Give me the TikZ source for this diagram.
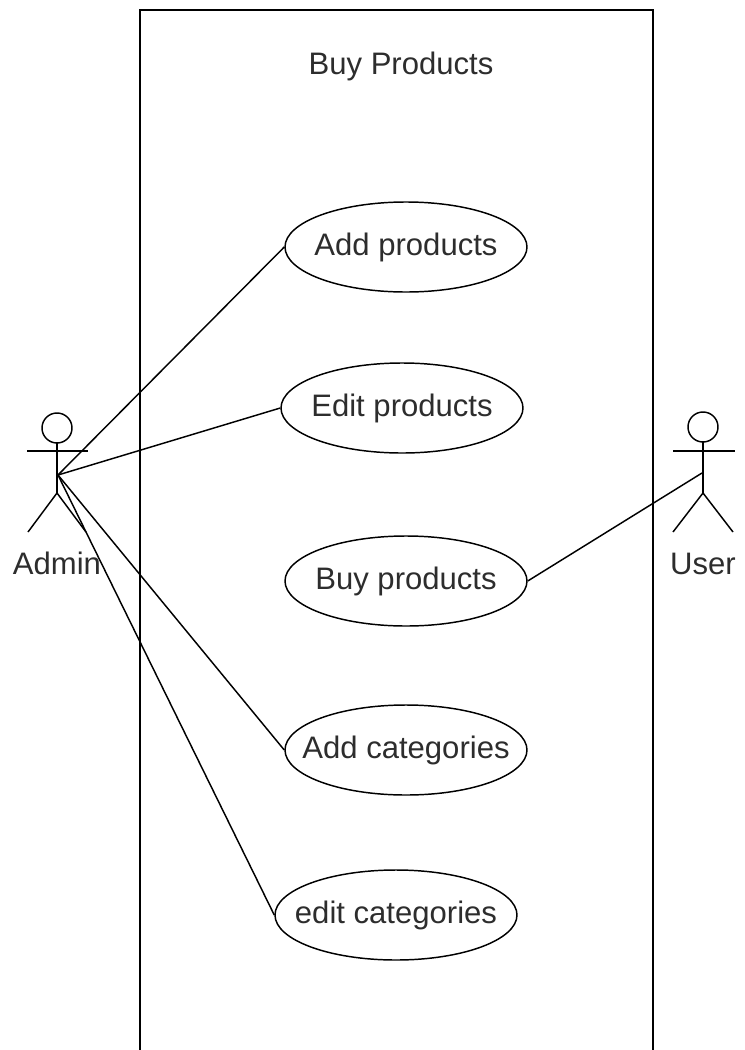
\documentclass[tikz,border=0pt]{standalone}
\usepackage{fontspec}
\setmainfont{Liberation Sans}
\usetikzlibrary{shapes.geometric}
\definecolor{inkgray}{RGB}{45,45,45}

\begin{document}
\begin{tikzpicture}[x=0.75pt,y=0.75pt,yscale=-1,xscale=1,
  usecase/.style={draw,line width=1.1pt,ellipse,inner sep=0pt,minimum width=181.5pt,minimum height=67.5pt,
    label={[inner sep=0pt,text=inkgray,font=\fontsize{23.3}{27}\selectfont]center:#1}},
  label text/.style={anchor=base,inner sep=0pt,text=inkgray,font=\fontsize{23.3}{27}\selectfont},
  link/.style={line width=1.1pt}]
\useasboundingbox (0,0) rectangle (744,1050);

%Shape: Rectangle (system boundary, open at the bottom)
\draw [line width=1.1pt] (140,1050) -- (140,10) -- (653,10) -- (653,1050) ;
% Text Node
\node [label text] (title) at (401,74) {Buy Products};

%Shape: Ellipse
\node [usecase=Add products] (addprod) at (406,247) {};
%Shape: Ellipse
\node [usecase=Edit products] (editprod) at (402,408) {};
%Shape: Ellipse
\node [usecase=Buy products] (buyprod) at (406,581) {};
%Shape: Ellipse
\node [usecase=Add categories] (addcat) at (406,750) {};
%Shape: Ellipse
\node [usecase=edit categories] (editcat) at (396,915) {};

%Actor: Admin
\draw [line width=1.1pt] (57,428) circle [radius=11.25pt] ;
\draw [line width=1.1pt] (57,443) -- (57,493) ;
\draw [line width=1.1pt] (27,451) -- (88,451) ;
\draw [line width=1.1pt] (28,532) -- (57,493) -- (86,532) ;
\coordinate (admin) at (58,475) ;
% Text Node
\node [label text] (adminlbl) at (57,574) {Admin};

%Actor: User
\draw [line width=1.1pt] (703,427) circle [radius=11.25pt] ;
\draw [line width=1.1pt] (703,442) -- (703,493) ;
\draw [line width=1.1pt] (673,451) -- (735,451) ;
\draw [line width=1.1pt] (673,532) -- (703,493) -- (733,532) ;
\coordinate (user) at (702,473) ;
% Text Node
\node [label text] (userlbl) at (703,574) {User};

%Straight Lines
\draw [link] (admin) -- (addprod.west) ;
\draw [link] (admin) -- (editprod.west) ;
\draw [link] (admin) -- (addcat.west) ;
\draw [link] (admin) -- (editcat.west) ;
\draw [link] (buyprod.east) -- (user) ;

\end{tikzpicture}
\end{document}
